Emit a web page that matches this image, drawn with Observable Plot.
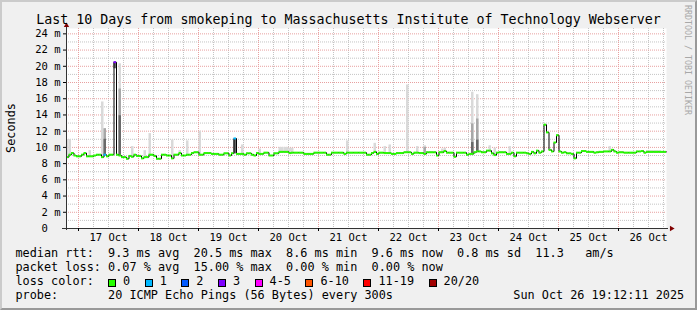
<!DOCTYPE html>
<html><head><meta charset="utf-8">
<script src="https://cdn.jsdelivr.net/npm/d3@7"></script>
<script src="https://cdn.jsdelivr.net/npm/@observablehq/plot@0.6"></script>
<style>
body{margin:0;background:#fff}
#chart{position:relative;width:697px;height:310px;background:#f0f0f0;overflow:hidden;font-family:'DejaVu Sans Mono',monospace;color:#000}
#chart svg{position:absolute;left:0;top:0}
.t{position:absolute;white-space:pre;font-family:'DejaVu Sans Mono',monospace}
.leg{font-size:11.83px;line-height:14px;left:15.5px}
#frame{position:absolute;left:0;top:0;width:697px;height:310px;box-sizing:border-box;border-top:2px solid #cbcbcb;border-left:2px solid #cbcbcb;border-right:2px solid #999;border-bottom:2px solid #999;pointer-events:none}
.sw{display:inline-block;width:6px;height:6px;border:1px solid #000;vertical-align:-2px;margin-right:7px}
.lb{margin-right:14.5px}
</style></head><body><div id="chart"></div>
<script>
const title = "Last 10 Days from smokeping to Massachusetts Institute of Technology Webserver";
const yAxisTitle = "Seconds";
const sideNote = "RRDTOOL / TOBI OETIKER";
const startTime = "2025-10-16T19:12:00Z";
const endTime = "2025-10-26T19:12:00Z";
const dayLabels = ["17 Oct","18 Oct","19 Oct","20 Oct","21 Oct","22 Oct","23 Oct","24 Oct","25 Oct","26 Oct"];
const yTickValues = [0,2,4,6,8,10,12,14,16,18,20,22,24];
const yMinorValues = [1,3,5,7,9,11,13,15,17,19,21,23];
const yTop = 24.66;

// hourly median rtt (ms)
const median = [
 8.8, 9.1, 9.3, 9.0, 8.9, 8.9, 9.1, 9.3, 8.9, 8.9,
 8.9, 9.0, 9.1, 9.1, 8.8, 9.1, 8.9, 9.1, 9.1, 20.5,
 9.1, 9.0, 8.8, 8.8, 8.6, 8.95, 8.85, 9.1, 8.95, 8.95,
 8.65, 8.8, 8.8, 9.1, 9.1, 8.95, 8.6, 8.6, 9.1, 9.1,
 9.0, 9.0, 8.65, 9.1, 9.1, 9.3, 9.0, 9.0, 9.1, 9.1,
 9.3, 9.4, 9.4, 9.1, 9.1, 9.3, 9.3, 9.3, 9.2, 9.2,
 9.2, 9.1, 9.1, 9.27, 9.27, 9.0, 9.27, 11.1, 9.2, 9.2,
 9.2, 9.1, 9.27, 9.27, 9.1, 9.0, 9.3, 9.2, 9.2, 9.35,
 9.35, 9.0, 9.0, 9.27, 9.27, 9.45, 9.45, 9.45, 9.45, 9.3,
 9.35, 9.35, 9.35, 9.35, 9.35, 9.2, 9.2, 9.2, 9.2, 9.35,
 9.35, 9.35, 9.35, 9.35, 9.1, 9.1, 9.35, 9.35, 9.35, 9.35,
 9.35, 9.2, 9.35, 9.35, 9.35, 9.35, 9.35, 9.35, 9.35, 9.35,
 9.1, 9.1, 9.3, 9.45, 9.2, 9.35, 9.35, 9.3, 9.3, 9.3,
 9.2, 9.2, 9.3, 9.3, 9.3, 9.4, 9.4, 9.4, 9.2, 9.35,
 9.35, 9.3, 9.3, 9.2, 9.4, 9.4, 9.4, 9.4, 9.0, 9.4,
 9.4, 9.55, 9.35, 9.35, 9.35, 8.85, 9.35, 9.35, 9.35, 9.35,
 9.1, 9.2, 9.2, 9.4, 9.5, 9.5, 9.4, 9.4, 9.6, 9.6,
 9.27, 9.05, 9.35, 9.4, 9.4, 9.4, 9.2, 9.2, 9.35, 8.9,
 9.35, 9.35, 9.35, 9.35, 9.27, 9.2, 9.45, 9.27, 9.6, 9.35,
 9.5, 12.8, 11.85, 9.7, 9.5, 10.6, 11.5, 9.5, 9.35, 9.4,
 9.27, 9.27, 9.2, 8.65, 9.35, 9.35, 9.55, 9.55, 9.45, 9.45,
 9.45, 9.35, 9.4, 9.45, 9.45, 9.5, 9.5, 9.5, 9.7, 9.5,
 9.35, 9.4, 9.4, 9.35, 9.35, 9.35, 9.35, 9.35, 9.5, 9.5,
 9.55, 9.35, 9.45, 9.45, 9.45, 9.45, 9.45, 9.45, 9.45, 9.45
];
const lossHours = [15, 19, 67];
const lossCounts = [1, 3, 1];
const lossCategories = ["0","1","2","3","4-5","6-10","11-19","20/20"];
const lossColors = ["#26ff00","#00b8ff","#0059ff","#7e00ff","#ff00ff","#ff5500","#ff0000","#a10000"];

// smoke (spread of the 20 pings) where it is visible
const smokeHours = [0,1,9,14,15,19,21,26,31,33,42,45,48,53,67,70,77,85,86,87,88,89,90,112,123,127,129,136,140,143,150,151,162,164,169,171,177,217,232,233,234,235,236,237];
const smokeLow   = [8.9,9.1,8.9,8.9,9.0,19.7,9.0,8.9,8.8,9.1,8.7,9.3,9.1,9.1,9.2,9.2,9.2,9.45,9.45,9.45,9.45,9.3,9.35,9.35,9.45,9.3,9.3,9.4,9.35,9.2,9.4,9.55,9.2,9.5,9.6,9.05,9.2,9.5,9.45,9.45,9.45,9.45,9.45,9.45];
const smokeTop   = [10.95,10.95,9.6,15.6,12.3,20.5,20.3,10.1,9.6,11.7,10.9,9.6,10.8,12.0,11.1,10.3,9.8,10.0,10.0,10.0,10.0,9.9,9.9,10.8,10.5,10.1,10.3,17.7,10.1,10.2,9.8,9.9,16.8,16.5,10.2,9.9,10.1,10.1,9.6,9.6,9.6,9.6,9.6,9.6];
const smokeMid   = [0,0,0,0,12.3,0,17.2,0,0,0,0,0,0,0,0,0,0,0,0,0,0,0,0,0,0,0,0,0,0,10.0,0,0,12.9,13.5,0,0,0,0,0,0,0,0,0,0];
const smokeDark  = [0,0,0,0,11.0,20.5,13.9,0,0,0,0,0,0,0,11.0,0,0,0,0,0,0,0,0,0,0,0,0,0,0,0,0,0,10.6,10.9,0,0,0,0,0,0,0,0,0,0];

const legendRtt = "median rtt:  9.3 ms avg  20.5 ms max  8.6 ms min  9.6 ms now  0.8 ms sd  11.3   am/s";
const legendLoss = "packet loss: 0.07 % avg  15.00 % max  0.00 % min  0.00 % now";
const legendColorTitle = "loss color:  ";
const legendProbe = "probe:       20 ICMP Echo Pings (56 Bytes) every 300s";
const legendDate = "Sun Oct 26 19:12:11 2025";

const t0 = new Date(startTime), t1 = new Date(endTime);
const hourTime = i => new Date(+t0 + i * 3600e3);
const lossIndex = n => n === 0 ? 0 : n === 1 ? 1 : n === 2 ? 2 : n === 3 ? 3 : n <= 5 ? 4 : n <= 10 ? 5 : n < 20 ? 6 : 7;

const medSeg = median.map((v, i) => {
  const k = lossHours.indexOf(i);
  const n = k >= 0 ? lossCounts[k] : 0;
  return {t0: hourTime(i), t1: hourTime(i + 1), v, c: lossColors[lossIndex(n)]};
});
const linePts = median.map((v, i) => ({t: hourTime(i), v})).concat([{t: hourTime(median.length), v: median[median.length - 1]}]);
const smoke = smokeHours.map((h, k) => ({x1: hourTime(h), x2: hourTime(h + 1), lo: smokeLow[k], top: smokeTop[k], mid: smokeMid[k], dark: smokeDark[k]}));

const dayStart = d3.utcDay.ceil(t0);
const majorX = d3.utcDay.range(dayStart, t1);
const minorX = d3.utcHour.every(6).range(t0, t1);
const dayTicks = majorX.map(d => d3.utcHour.offset(d, 12));

const chart = Plot.plot({
  width: 697, height: 310,
  marginLeft: 66, marginRight: 31, marginTop: 28, marginBottom: 82,
  x: {type: "utc", domain: [t0, t1]},
  y: {domain: [0, yTop]},
  color: {type: "identity"},
  style: {background: "transparent", fontFamily: "'DejaVu Sans Mono', monospace", fontSize: "10.5px", color: "#000", overflow: "visible"},
  marks: [
    Plot.frame({fill: "#ffffff", stroke: null}),
    Plot.ruleX(minorX, {stroke: "#c4c4c4", strokeDasharray: "1,1"}),
    Plot.ruleY(yMinorValues, {stroke: "#c4c4c4", strokeDasharray: "1,1"}),
    Plot.ruleX(majorX, {stroke: "#e8a0a0", strokeDasharray: "1,1"}),
    Plot.ruleY(yTickValues.filter(d => d > 0), {stroke: "#e8a0a0", strokeDasharray: "1,1"}),
    Plot.rect(smoke, {x1: "x1", x2: "x2", y1: "lo", y2: "top", fill: "#d9d9d9"}),
    Plot.rect(smoke.filter(d => d.mid > 0), {x1: "x1", x2: "x2", y1: "lo", y2: "mid", fill: "#a8a8a8"}),
    Plot.rect(smoke.filter(d => d.dark > 0), {x1: "x1", x2: "x2", y1: "lo", y2: "dark", fill: "#6a6a6a"}),
    Plot.line(linePts, {x: "t", y: "v", curve: "step-after", stroke: "#000", strokeWidth: 1}),
    Plot.ruleY(medSeg, {y: "v", x1: "t0", x2: "t1", stroke: "c", strokeWidth: 2}),
    Plot.ruleX([t0], {stroke: "#333", insetTop: -4, insetBottom: -2}),
    Plot.ruleY([0], {stroke: "#333", insetLeft: -4, insetRight: -2}),
    Plot.dot([{x: t0, y: yTop}], {x: "x", y: "y", symbol: "triangle", r: 2, fill: "#800000", stroke: null, dy: -3}),
    Plot.dot([{x: t1, y: 0}], {x: "x", y: "y", symbol: "triangle", r: 2, fill: "#800000", stroke: null, rotate: 90, dx: 5}),
    Plot.axisX(dayTicks, {tickSize: 0, tickPadding: 5, tickFormat: d => dayLabels[dayTicks.findIndex(t => +t === +d)]}),
    Plot.axisX(majorX, {tickSize: 3, tickFormat: () => ""}),
    Plot.axisY(yTickValues.filter(d => d > 0), {tickSize: 3, tickPadding: 3, tickFormat: d => d + " m"}),
    Plot.axisY([0], {tickSize: 0, tickPadding: 18.6, tickFormat: () => "0"})
  ]
});

const root = document.getElementById("chart");
root.appendChild(chart);

function addText(txt, css, cls) {
  const d = document.createElement("div");
  d.className = "t" + (cls ? " " + cls : "");
  d.textContent = txt;
  Object.assign(d.style, css);
  root.appendChild(d);
  return d;
}
addText(title, {left: "0px", width: "697px", top: "11.7px", fontSize: "13.3px", lineHeight: "16px", textAlign: "center"});
addText(yAxisTitle, {left: "-19.5px", top: "121px", width: "60px", height: "14px", fontSize: "11.83px", lineHeight: "14px", textAlign: "center", transform: "rotate(-90deg)"});
addText(sideNote, {left: "627.9px", top: "55px", width: "120px", height: "10px", fontSize: "8.3px", lineHeight: "10px", textAlign: "center", color: "#a8a8a8", transform: "rotate(90deg)"});
addText(legendRtt, {top: "246.2px"}, "leg");
addText(legendLoss, {top: "260px"}, "leg");
const lc = addText(legendColorTitle, {top: "273.8px"}, "leg");
lossCategories.forEach((c, i) => {
  const sw = document.createElement("span");
  sw.className = "sw";
  sw.style.background = lossColors[i];
  lc.appendChild(sw);
  const lb = document.createElement("span");
  lb.className = "lb";
  lb.textContent = c;
  lc.appendChild(lb);
});
addText(legendProbe, {top: "287.6px"}, "leg");
const dt = addText(legendDate, {top: "287.6px", fontSize: "11.83px", lineHeight: "14px"});
dt.style.right = "12.8px";
const fr = document.createElement("div");
fr.id = "frame";
root.appendChild(fr);
</script></body></html>
